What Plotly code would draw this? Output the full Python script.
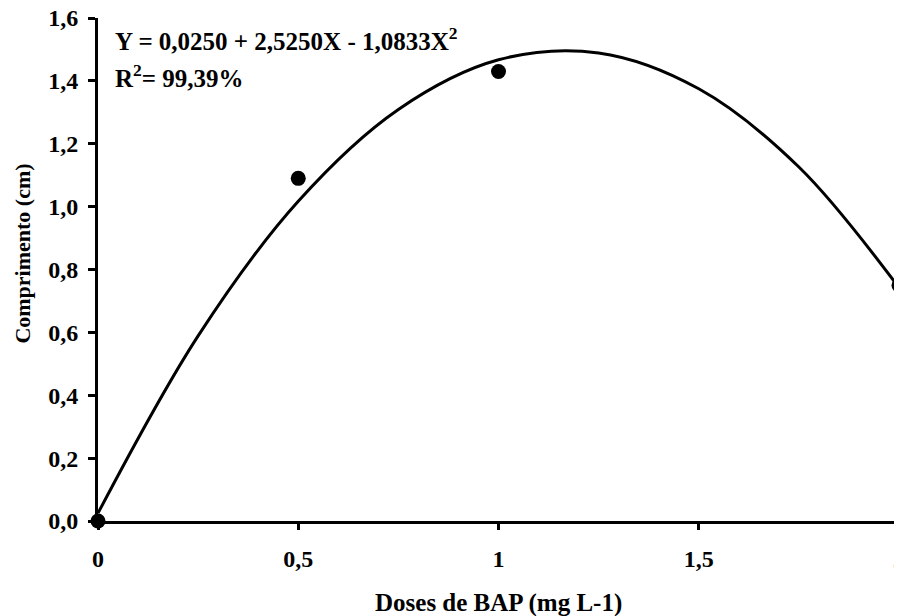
import plotly.graph_objects as go

# Observed data
dose = [0, 0.5, 1, 2]
comprimento = [0.0, 1.09, 1.43, 0.75]

# Fitted curve
curve_x = [0, 0.25, 0.5, 0.75, 1.0, 1.25, 1.5, 1.75, 2.0]
curve_y = [0.025, 0.589, 1.017, 1.309, 1.467, 1.489, 1.375, 1.126, 0.742]

x_tickvals = [0, 0.5, 1, 1.5, 2]
x_ticktext = ["0", "0,5", "1", "1,5", "2"]
y_tickvals = [0, 0.2, 0.4, 0.6, 0.8, 1.0, 1.2, 1.4, 1.6]
y_ticktext = ["0,0", "0,2", "0,4", "0,6", "0,8", "1,0", "1,2", "1,4", "1,6"]

equation = "Y = 0,0250 + 2,5250X - 1,0833X<sup>2</sup>"
r2_text = "R<sup>2</sup>= 99,39%"
x_title = "Doses de BAP (mg L-1)"
y_title = "Comprimento (cm)"

FONT = "Liberation Serif"

fig = go.Figure()
fig.add_trace(go.Scatter(
    x=curve_x, y=curve_y, mode="lines",
    line=dict(color="black", width=3, shape="spline", smoothing=1.0),
    cliponaxis=False, showlegend=False, hoverinfo="skip"))
fig.add_trace(go.Scatter(
    x=dose, y=comprimento, mode="markers",
    marker=dict(color="black", size=15, symbol="circle"),
    cliponaxis=False, showlegend=False))

# The page body adds an 8px offset, so the figure is sized 8px smaller
fig.update_layout(
    width=894, height=608,
    margin=dict(l=90, r=3, t=10, b=95, autoexpand=False),
    paper_bgcolor="white", plot_bgcolor="white",
    font=dict(family=FONT, size=22, color="black"),
    xaxis=dict(range=[0, 2], tickvals=x_tickvals, ticktext=x_ticktext,
               showgrid=False, zeroline=False, showline=True, linecolor="black",
               linewidth=3, ticks="outside", ticklen=6, tickwidth=3, tickcolor="black",
               tickfont=dict(family=FONT, size=24, color="black", weight="bold"),
               ticklabelstandoff=8, automargin=False, ticklabeloverflow="allow"),
    yaxis=dict(range=[0, 1.6], tickvals=y_tickvals, ticktext=y_ticktext,
               showgrid=False, zeroline=False, showline=True, linecolor="black",
               linewidth=3, ticks="outside", ticklen=7, tickwidth=3, tickcolor="black",
               tickfont=dict(family=FONT, size=24, color="black", weight="bold"),
               ticklabelstandoff=5, automargin=False, ticklabeloverflow="allow"),
    annotations=[
        dict(text="<b>" + equation + "</b>", xref="paper", yref="paper",
             x=0.019, y=0.958, xanchor="left", yanchor="middle", showarrow=False,
             font=dict(family=FONT, size=25, color="black")),
        dict(text="<b>" + r2_text + "</b>", xref="paper", yref="paper",
             x=0.019, y=0.884, xanchor="left", yanchor="middle", showarrow=False,
             font=dict(family=FONT, size=25, color="black")),
        dict(text="<b>" + x_title + "</b>", xref="paper", yref="paper",
             x=0.5, y=-0.163, xanchor="center", yanchor="middle", showarrow=False,
             font=dict(family=FONT, size=25, color="black")),
        dict(text="<b>" + y_title + "</b>", xref="paper", yref="paper",
             x=-0.094, y=0.531, xanchor="center", yanchor="middle", showarrow=False,
             textangle=-90, font=dict(family=FONT, size=22, color="black")),
    ],
)

fig.write_html("out.html")
